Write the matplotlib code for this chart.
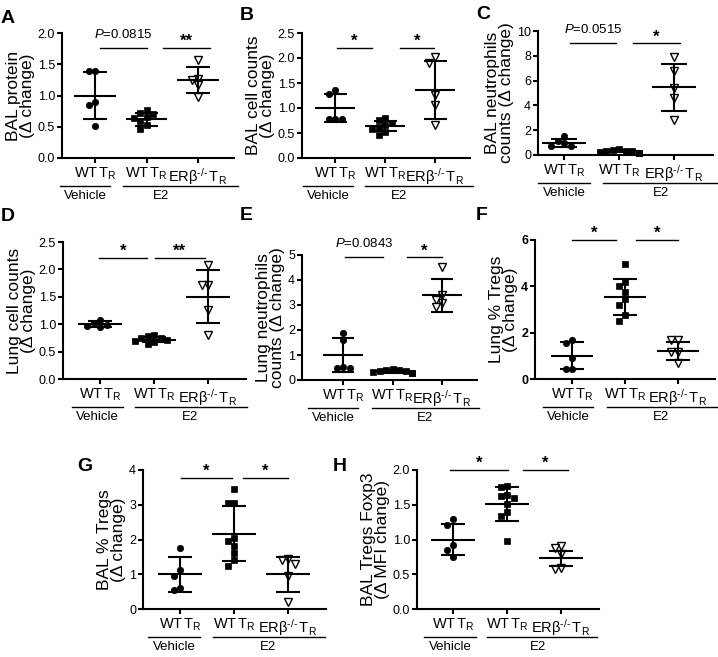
import numpy as np
import matplotlib
matplotlib.use('Agg')
import matplotlib.pyplot as plt
from matplotlib import transforms

plt.rcParams['font.family'] = ['Liberation Sans', 'DejaVu Sans']
plt.rcParams['mathtext.fontset'] = 'custom'
plt.rcParams['mathtext.rm'] = 'Liberation Sans'
plt.rcParams['mathtext.it'] = 'Liberation Sans:italic'
plt.rcParams['mathtext.bf'] = 'Liberation Sans:bold'

# ---------------- data ----------------
group_labels = [r'$\mathrm{WT\,T_R}$', r'$\mathrm{WT\,T_R}$', r'$\mathrm{ERβ^{‐/‐}\,T_R}$']
treatments = ['Vehicle', 'E2']

A_veh = [1.40, 1.40, 0.90, 0.85, 0.51]
A_wt = [0.77, 0.72, 0.70, 0.66, 0.64, 0.60, 0.53, 0.46]
A_ko = [1.57, 1.27, 1.25, 1.17, 0.98]
A_mean = [1.00, 0.62, 1.25]
A_sd = [0.38, 0.10, 0.21]
A_sig = [(0.10, 1.00, 1.76, 'P=0.0815'), (1.32, 2.23, 1.76, '**')]

B_veh = [1.37, 1.28, 0.78, 0.78, 0.78]
B_wt = [0.80, 0.77, 0.70, 0.66, 0.62, 0.58, 0.52, 0.46]
B_ko = [2.03, 1.91, 1.27, 1.07, 0.67]
B_mean = [1.00, 0.64, 1.36]
B_sd = [0.28, 0.10, 0.57]
B_sig = [(0.03, 0.74, 2.21, '*'), (1.30, 1.98, 2.21, '*')]

C_veh = [1.50, 1.15, 0.95, 0.75, 0.70]
C_wt = [0.45, 0.40, 0.35, 0.30, 0.30, 0.25, 0.20, 0.18]
C_ko = [7.90, 6.80, 5.40, 4.60, 2.80]
C_mean = [1.00, 0.30, 5.46]
C_sd = [0.33, 0.09, 1.91]
C_sig = [(0.11, 0.95, 9.0, 'P=0.0515'), (1.25, 2.10, 9.0, '*')]

D_veh = [1.08, 1.02, 0.98, 0.97, 0.95]
D_wt = [0.80, 0.78, 0.75, 0.74, 0.72, 0.70, 0.67, 0.63]
D_ko = [2.08, 1.71, 1.71, 1.26, 0.81]
D_mean = [1.00, 0.72, 1.50]
D_sd = [0.05, 0.05, 0.48]
D_sig = [(-0.02, 0.87, 2.21, '*'), (1.02, 1.94, 2.21, '**')]

E_veh = [1.87, 1.60, 0.53, 0.50, 0.47]
E_wt = [0.45, 0.42, 0.40, 0.38, 0.35, 0.33, 0.30, 0.28]
E_ko = [4.53, 3.40, 3.20, 3.07, 2.93]
E_mean = [1.00, 0.36, 3.38]
E_sd = [0.67, 0.06, 0.65]
E_sig = [(0.04, 0.81, 4.9, 'P=0.0843'), (1.29, 2.00, 4.9, '*')]

F_veh = [1.68, 1.55, 0.90, 0.45, 0.45]
F_wt = [4.95, 4.20, 4.00, 3.75, 3.45, 3.20, 2.75, 2.50]
F_ko = [1.68, 1.68, 1.18, 1.18, 0.68]
F_mean = [1.00, 3.54, 1.20]
F_sd = [0.58, 0.76, 0.40]
F_sig = [(0.00, 0.83, 6.0, '*'), (1.21, 2.00, 6.0, '*')]

G_veh = [1.75, 1.12, 0.95, 0.60, 0.55]
G_wt = [3.45, 3.05, 3.05, 2.05, 1.95, 1.80, 1.60, 1.40, 1.25]
G_ko = [1.45, 1.40, 1.30, 0.95, 0.20]
G_mean = [1.00, 2.16, 1.00]
G_sd = [0.50, 0.79, 0.50]
G_sig = [(0.02, 0.96, 3.76, '*'), (1.17, 2.00, 3.76, '*')]

H_veh = [1.29, 1.21, 0.92, 0.85, 0.75]
H_wt = [1.77, 1.76, 1.64, 1.62, 1.60, 1.51, 1.39, 1.34, 0.98]
H_ko = [0.91, 0.88, 0.79, 0.59, 0.58]
H_mean = [1.00, 1.51, 0.73]
H_sd = [0.23, 0.24, 0.11]
H_sig = [(-0.06, 1.02, 2.0, '*'), (1.30, 2.13, 2.0, '*')]

A_ylabel = 'BAL protein\n(Δ change)'
B_ylabel = 'BAL cell counts\n(Δ change)'
C_ylabel = 'BAL neutrophils\ncounts (Δ change)'
D_ylabel = 'Lung cell counts\n(Δ change)'
E_ylabel = 'Lung neutrophils\ncounts (Δ change)'
F_ylabel = 'Lung % Tregs\n(Δ change)'
G_ylabel = 'BAL % Tregs\n(Δ change)'
H_ylabel = 'BAL Tregs Foxp3\n(Δ MFI change)'

A_yticks = [0.0, 0.5, 1.0, 1.5, 2.0]
B_yticks = [0.0, 0.5, 1.0, 1.5, 2.0, 2.5]
C_yticks = [0, 2, 4, 6, 8, 10]
D_yticks = [0.0, 0.5, 1.0, 1.5, 2.0, 2.5]
E_yticks = [0, 1, 2, 3, 4, 5]
F_yticks = [0, 2, 4, 6]
G_yticks = [0, 1, 2, 3, 4]
H_yticks = [0.0, 0.5, 1.0, 1.5, 2.0]

# ---------------- layout (pixels) ----------------
W, H = 718, 657
fig = plt.figure(figsize=(W / 100, H / 100), dpi=100)

def fx(px):
    return px / W

def fy(py):
    return 1 - py / H

# letter, axis left px, first group px, group spacing px, top px, bottom px,
# letter position, tick format, bold ticks, vehicle line, E2 line, E2 text x
layout = [
    ('A', 62, 95, 51.5, 33, 158, (1, 10), '{:.1f}', False, (-0.68, 0.29), (0.54, 2.78), 1.28),
    ('B', 302, 335, 50, 33, 158, (240, 7), '{:.1f}', False, (-0.64, 0.36), (0.60, 2.75), 1.27),
    ('C', 538, 564, 55, 31, 155, (476, 6), '{:d}', False, (-0.47, 0.47), (0.71, 2.78), 1.76),
    ('D', 63, 100, 54, 242, 379, (1, 208), '{:.1f}', False, (-0.52, 0.43), (0.65, 2.72), 1.67),
    ('E', 302, 343, 49.5, 255, 380, (240, 207), '{:d}', False, (-0.70, 0.30), (0.59, 2.75), 1.66),
    ('F', 535, 572, 53, 240, 379, (476, 207), '{:d}', True, (-0.55, 0.40), (0.66, 2.74), 1.68),
    ('G', 143, 180, 54, 470, 609, (77, 458), '{:d}', False, (-0.59, 0.37), (0.61, 2.69), 1.63),
    ('H', 417, 453, 54, 470, 609, (333, 458), '{:.1f}', False, (-0.54, 0.43), (0.63, 2.67), 1.58),
]

data = {
    'A': (A_veh, A_wt, A_ko, A_mean, A_sd, A_sig, A_ylabel, A_yticks),
    'B': (B_veh, B_wt, B_ko, B_mean, B_sd, B_sig, B_ylabel, B_yticks),
    'C': (C_veh, C_wt, C_ko, C_mean, C_sd, C_sig, C_ylabel, C_yticks),
    'D': (D_veh, D_wt, D_ko, D_mean, D_sd, D_sig, D_ylabel, D_yticks),
    'E': (E_veh, E_wt, E_ko, E_mean, E_sd, E_sig, E_ylabel, E_yticks),
    'F': (F_veh, F_wt, F_ko, F_mean, F_sd, F_sig, F_ylabel, F_yticks),
    'G': (G_veh, G_wt, G_ko, G_mean, G_sd, G_sig, G_ylabel, G_yticks),
    'H': (H_veh, H_wt, H_ko, H_mean, H_sd, H_sig, H_ylabel, H_yticks),
}

XRIGHT = 2.7
LW = 1.5


def swarm(vals, ppu, d=6.5):
    """x offsets (pixels) so markers of diameter d do not overlap."""
    vals = np.asarray(vals, float)
    order = np.argsort(-vals, kind='stable')
    placed = []
    offs = np.zeros(len(vals))
    cands = [0, -1, 1, -2, 2, -3, 3]
    for i in order:
        y = vals[i] * ppu
        for c in cands:
            x = c * d
            if all((x - px) ** 2 + (y - py) ** 2 >= (d * 0.95) ** 2 for px, py in placed):
                break
        placed.append((x, y))
        offs[i] = x
    return offs


for (letter, left, g0, sp, top, bot, lpos, fmt, boldticks, vline, eline, etx) in layout:
    veh, wt, ko, means, sds, sig, ylabel, yticks = data[letter]
    xl = -(g0 - left) / sp
    width = sp * (XRIGHT - xl)
    ax = fig.add_axes([fx(left), fy(bot), width / W, (bot - top) / H])
    ymax = yticks[-1]
    ax.set_xlim(xl, XRIGHT)
    ax.set_ylim(0, ymax)
    ppu = (bot - top) / ymax
    for sp_name in ['top', 'right']:
        ax.spines[sp_name].set_visible(False)
    for sp_name in ['left', 'bottom']:
        ax.spines[sp_name].set_linewidth(LW)
    ax.set_yticks(yticks)
    ax.set_yticklabels([fmt.format(t) for t in yticks], fontsize=9,
                       fontweight='bold' if boldticks else 'normal')
    ax.set_xticks([0, 1, 2])
    ax.set_xticklabels(group_labels, fontsize=10.5)
    ax.tick_params(axis='both', direction='out', length=3.5, width=LW, pad=1.5)
    ax.tick_params(axis='x', pad=2)
    ax.set_ylabel(ylabel, fontsize=12.5, linespacing=0.95, labelpad=2)

    styles = [
        dict(marker='o', ms=4.6, mfc='black', mec='black', mew=0.5),
        dict(marker='s', ms=4.4, mfc='black', mec='black', mew=0.5),
        dict(marker='v', ms=5.3, mfc='white', mec='black', mew=1.0),
    ]
    for gi, vals in enumerate([veh, wt, ko]):
        offs = swarm(vals, ppu) / sp
        ax.plot(gi + offs, vals, ls='none', clip_on=False, zorder=3, **styles[gi])
        m, s = means[gi], sds[gi]
        ax.plot([gi - 0.4, gi + 0.4], [m, m], color='black', lw=LW, zorder=4, solid_capstyle='butt')
        ax.plot([gi, gi], [m - s, m + s], color='black', lw=LW, zorder=4, solid_capstyle='butt')
        for yy in (m - s, m + s):
            ax.plot([gi - 0.23, gi + 0.23], [yy, yy], color='black', lw=LW, zorder=4,
                    solid_capstyle='butt')

    for (x1, x2, yy, txt) in sig:
        ax.plot([x1, x2], [yy, yy], color='black', lw=1.0, clip_on=False)
        xc = (x1 + x2) / 2
        if txt.startswith('P'):
            ax.annotate('$\\mathit{P}$' + txt[1:], (xc, yy), xytext=(0, 7.5),
                        textcoords='offset points', ha='center', va='baseline', fontsize=9.5,
                        annotation_clip=False)
        else:
            ax.annotate(txt, (xc, yy), xytext=(0, 1.5), textcoords='offset points',
                        ha='center', va='baseline', fontsize=12, fontweight='bold',
                        annotation_clip=False)

    # treatment group lines below x labels
    trans = transforms.blended_transform_factory(ax.transData, fig.transFigure)
    ly = fy(bot + 28)
    for (x1, x2), tx, name in zip([vline, eline], [sum(vline) / 2, etx], treatments):
        ax.plot([x1, x2], [ly, ly], color='black', lw=1.0, transform=trans, clip_on=False)
        ax.text(tx, fy(bot + 32), name, transform=trans, ha='center', va='top',
                fontsize=9.5)

    fig.text(fx(lpos[0]), fy(lpos[1]), letter, ha='left', va='top', fontsize=14,
             fontweight='bold')

fig.savefig('out.png', dpi=100)
